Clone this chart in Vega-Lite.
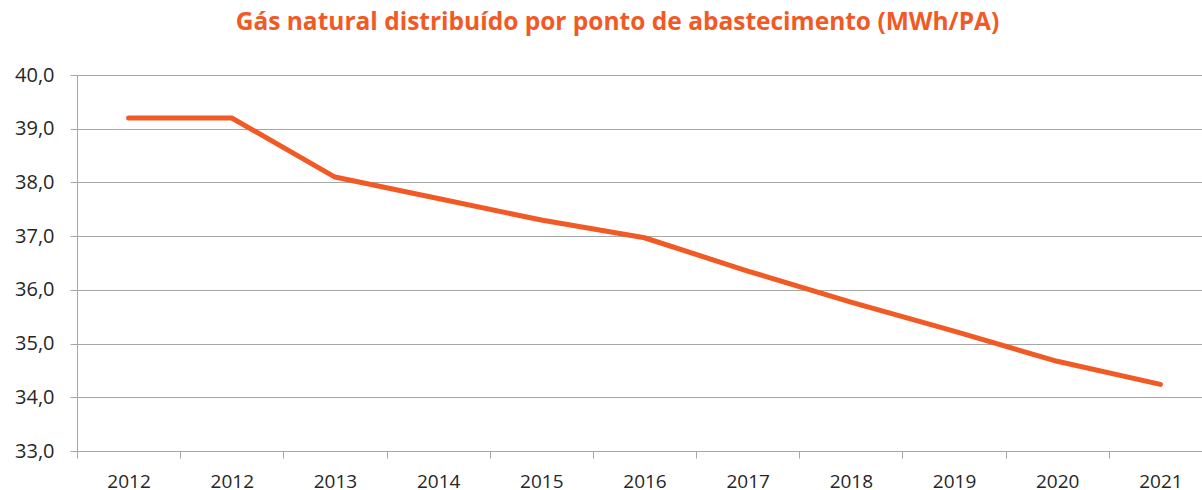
{
  "$schema": "https://vega.github.io/schema/vega-lite/v6.json",
  "autosize": {"type": "none"},
  "padding": {"left": 77, "top": 75, "right": 0, "bottom": 39},
  "width": 1135,
  "height": 376,
  "background": "white",
  "title": {
    "text": "Gás natural distribuído por ponto de abastecimento (MWh/PA)",
    "color": "#F15A24",
    "font": "Open Sans",
    "fontSize": 24.5,
    "fontWeight": "bold",
    "anchor": "middle",
    "dx": -27,
    "offset": 30
  },
  "data": {
    "values": [
      {"periodo": "2012-1", "valor": 39.2},
      {"periodo": "2012-2", "valor": 39.2},
      {"periodo": "2013", "valor": 38.1},
      {"periodo": "2014", "valor": 37.7},
      {"periodo": "2015", "valor": 37.3},
      {"periodo": "2016", "valor": 36.97},
      {"periodo": "2017", "valor": 36.35},
      {"periodo": "2018", "valor": 35.77},
      {"periodo": "2019", "valor": 35.23},
      {"periodo": "2020", "valor": 34.67},
      {"periodo": "2021", "valor": 34.24}
    ]
  },
  "mark": {"type": "line", "color": "#F15A24", "strokeWidth": 5, "strokeCap": "round", "strokeJoin": "round"},
  "encoding": {
    "x": {
      "field": "periodo",
      "type": "ordinal",
      "sort": null,
      "scale": {"type": "band", "paddingInner": 0, "paddingOuter": 0},
      "axis": {
        "title": null,
        "labelAngle": 0,
        "labelExpr": "isValid(datum.value) ? split(datum.value, '-')[0] : ''",
        "tickBand": "extent",
        "tickSize": 7,
        "tickColor": "#A6A6A6",
        "domainColor": "#A6A6A6",
        "labelPadding": 14,
        "labelFont": "Open Sans",
        "labelFontSize": 19,
        "labelColor": "#262626",
        "grid": false
      }
    },
    "y": {
      "field": "valor",
      "type": "quantitative",
      "scale": {"domain": [33, 40], "nice": false, "zero": false},
      "axis": {
        "title": null,
        "values": [33, 34, 35, 36, 37, 38, 39, 40],
        "labelExpr": "replace(format(datum.value, '.1f'), '.', ',')",
        "tickSize": 7,
        "tickColor": "#A6A6A6",
        "domainColor": "#A6A6A6",
        "gridColor": "#A6A6A6",
        "labelPadding": 16,
        "labelFont": "Open Sans",
        "labelFontSize": 20,
        "labelColor": "#262626"
      }
    }
  },
  "config": {"view": {"stroke": null}}
}
